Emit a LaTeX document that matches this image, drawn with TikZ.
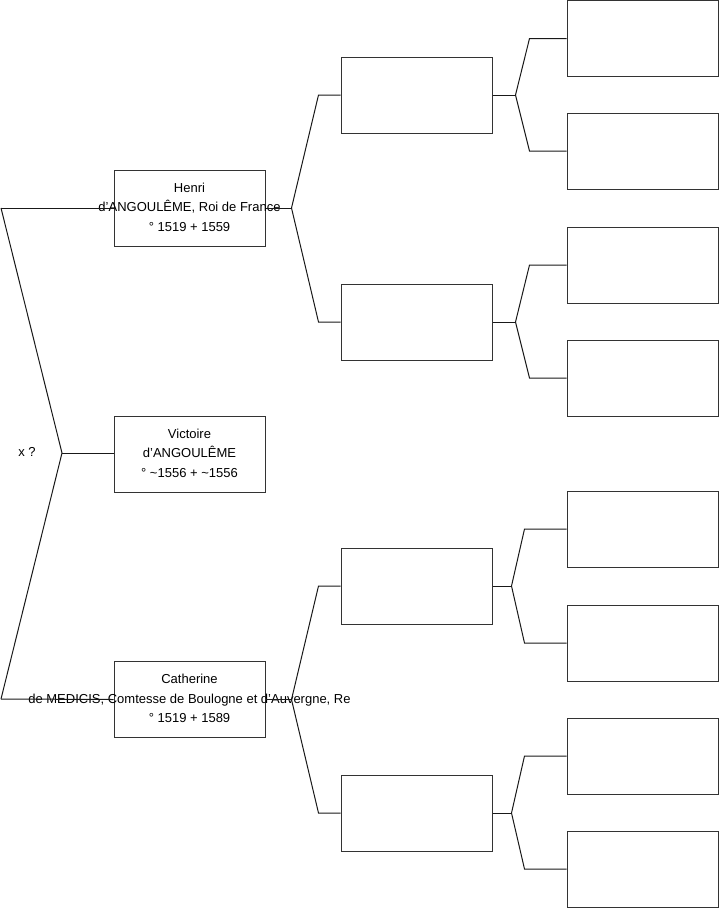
\documentclass[tikz,border=0pt]{standalone}
\usepackage{fontspec}
\setmainfont{Liberation Sans}
\usetikzlibrary{calc}

\begin{document}
\begin{tikzpicture}[x=1pt, y=-1pt, line width=1pt,
  every node/.style={font=\fontsize{13}{19.5}\selectfont},
  box/.style={draw=black!80, minimum width=151pt, minimum height=76pt, inner sep=0pt},
  link/.style={draw=black!90}]
\useasboundingbox (0,0) rectangle (719,908);

% generation 1
\node[box] (henri) at (189.5,208) {};
\node[align=center] (henritxt) at ([yshift=1pt]henri.center) {Henri\\d'ANGOULÊME, Roi de France\\° 1519 + 1559};
\node[box] (victoire) at (189.5,454) {};
\node[align=center] (victoiretxt) at ([yshift=1pt]victoire.center) {Victoire\\d'ANGOULÊME\\° \textasciitilde1556 + \textasciitilde1556};
\node[box] (catherine) at (189.5,699.5) {};
\node[align=center] (catherinetxt) at ([yshift=1pt]catherine.center) {Catherine\\de MEDICIS, Comtesse de Boulogne et d'Auvergne, Re\\° 1519 + 1589};

% generations 2 and 3
\foreach \n/\y in {1/95,2/322,3/586,4/813}
  \node[box] (p\n) at (416.5,\y) {};
\foreach \n/\y in {1/38.5,2/151,3/265,4/378,5/529,6/643,7/756,8/869}
  \node[box] (g\n) at (642.5,\y) {};

% left fork
\coordinate (hl) at (1,208);
\coordinate (cl) at (1,699);
\coordinate (root) at (62,453);
\node (x) at (27,452) {x ?};
\draw[link] (hl) -- (henri.west);
\draw[link] (cl) -- (catherine.west);
\draw[link] (hl) -- (root) -- (cl);
\draw[link] (root) -- (root -| victoire.west);

% forks to generation 2
\foreach \a/\b/\c in {henri/p1/p2, catherine/p3/p4} {
  \draw[link] (\a.east) -- ++(26,0) coordinate (f\a);
  \draw[link] (f\a) -- ($(\b.west)+(-22,0)$) -- (\b.west);
  \draw[link] (f\a) -- ($(\c.west)+(-22,0)$) -- (\c.west);
}

% forks to generation 3
\foreach \p/\a/\b/\d/\k in {p1/g1/g2/23/37, p2/g3/g4/23/37, p3/g5/g6/19/42, p4/g7/g8/19/42} {
  \draw[link] (\p.east) -- ++(\d,0) coordinate (f\p);
  \draw[link] (f\p) -- ($(\a.west)+(-\k,0)$) -- (\a.west);
  \draw[link] (f\p) -- ($(\b.west)+(-\k,0)$) -- (\b.west);
}
\end{tikzpicture}
\end{document}
